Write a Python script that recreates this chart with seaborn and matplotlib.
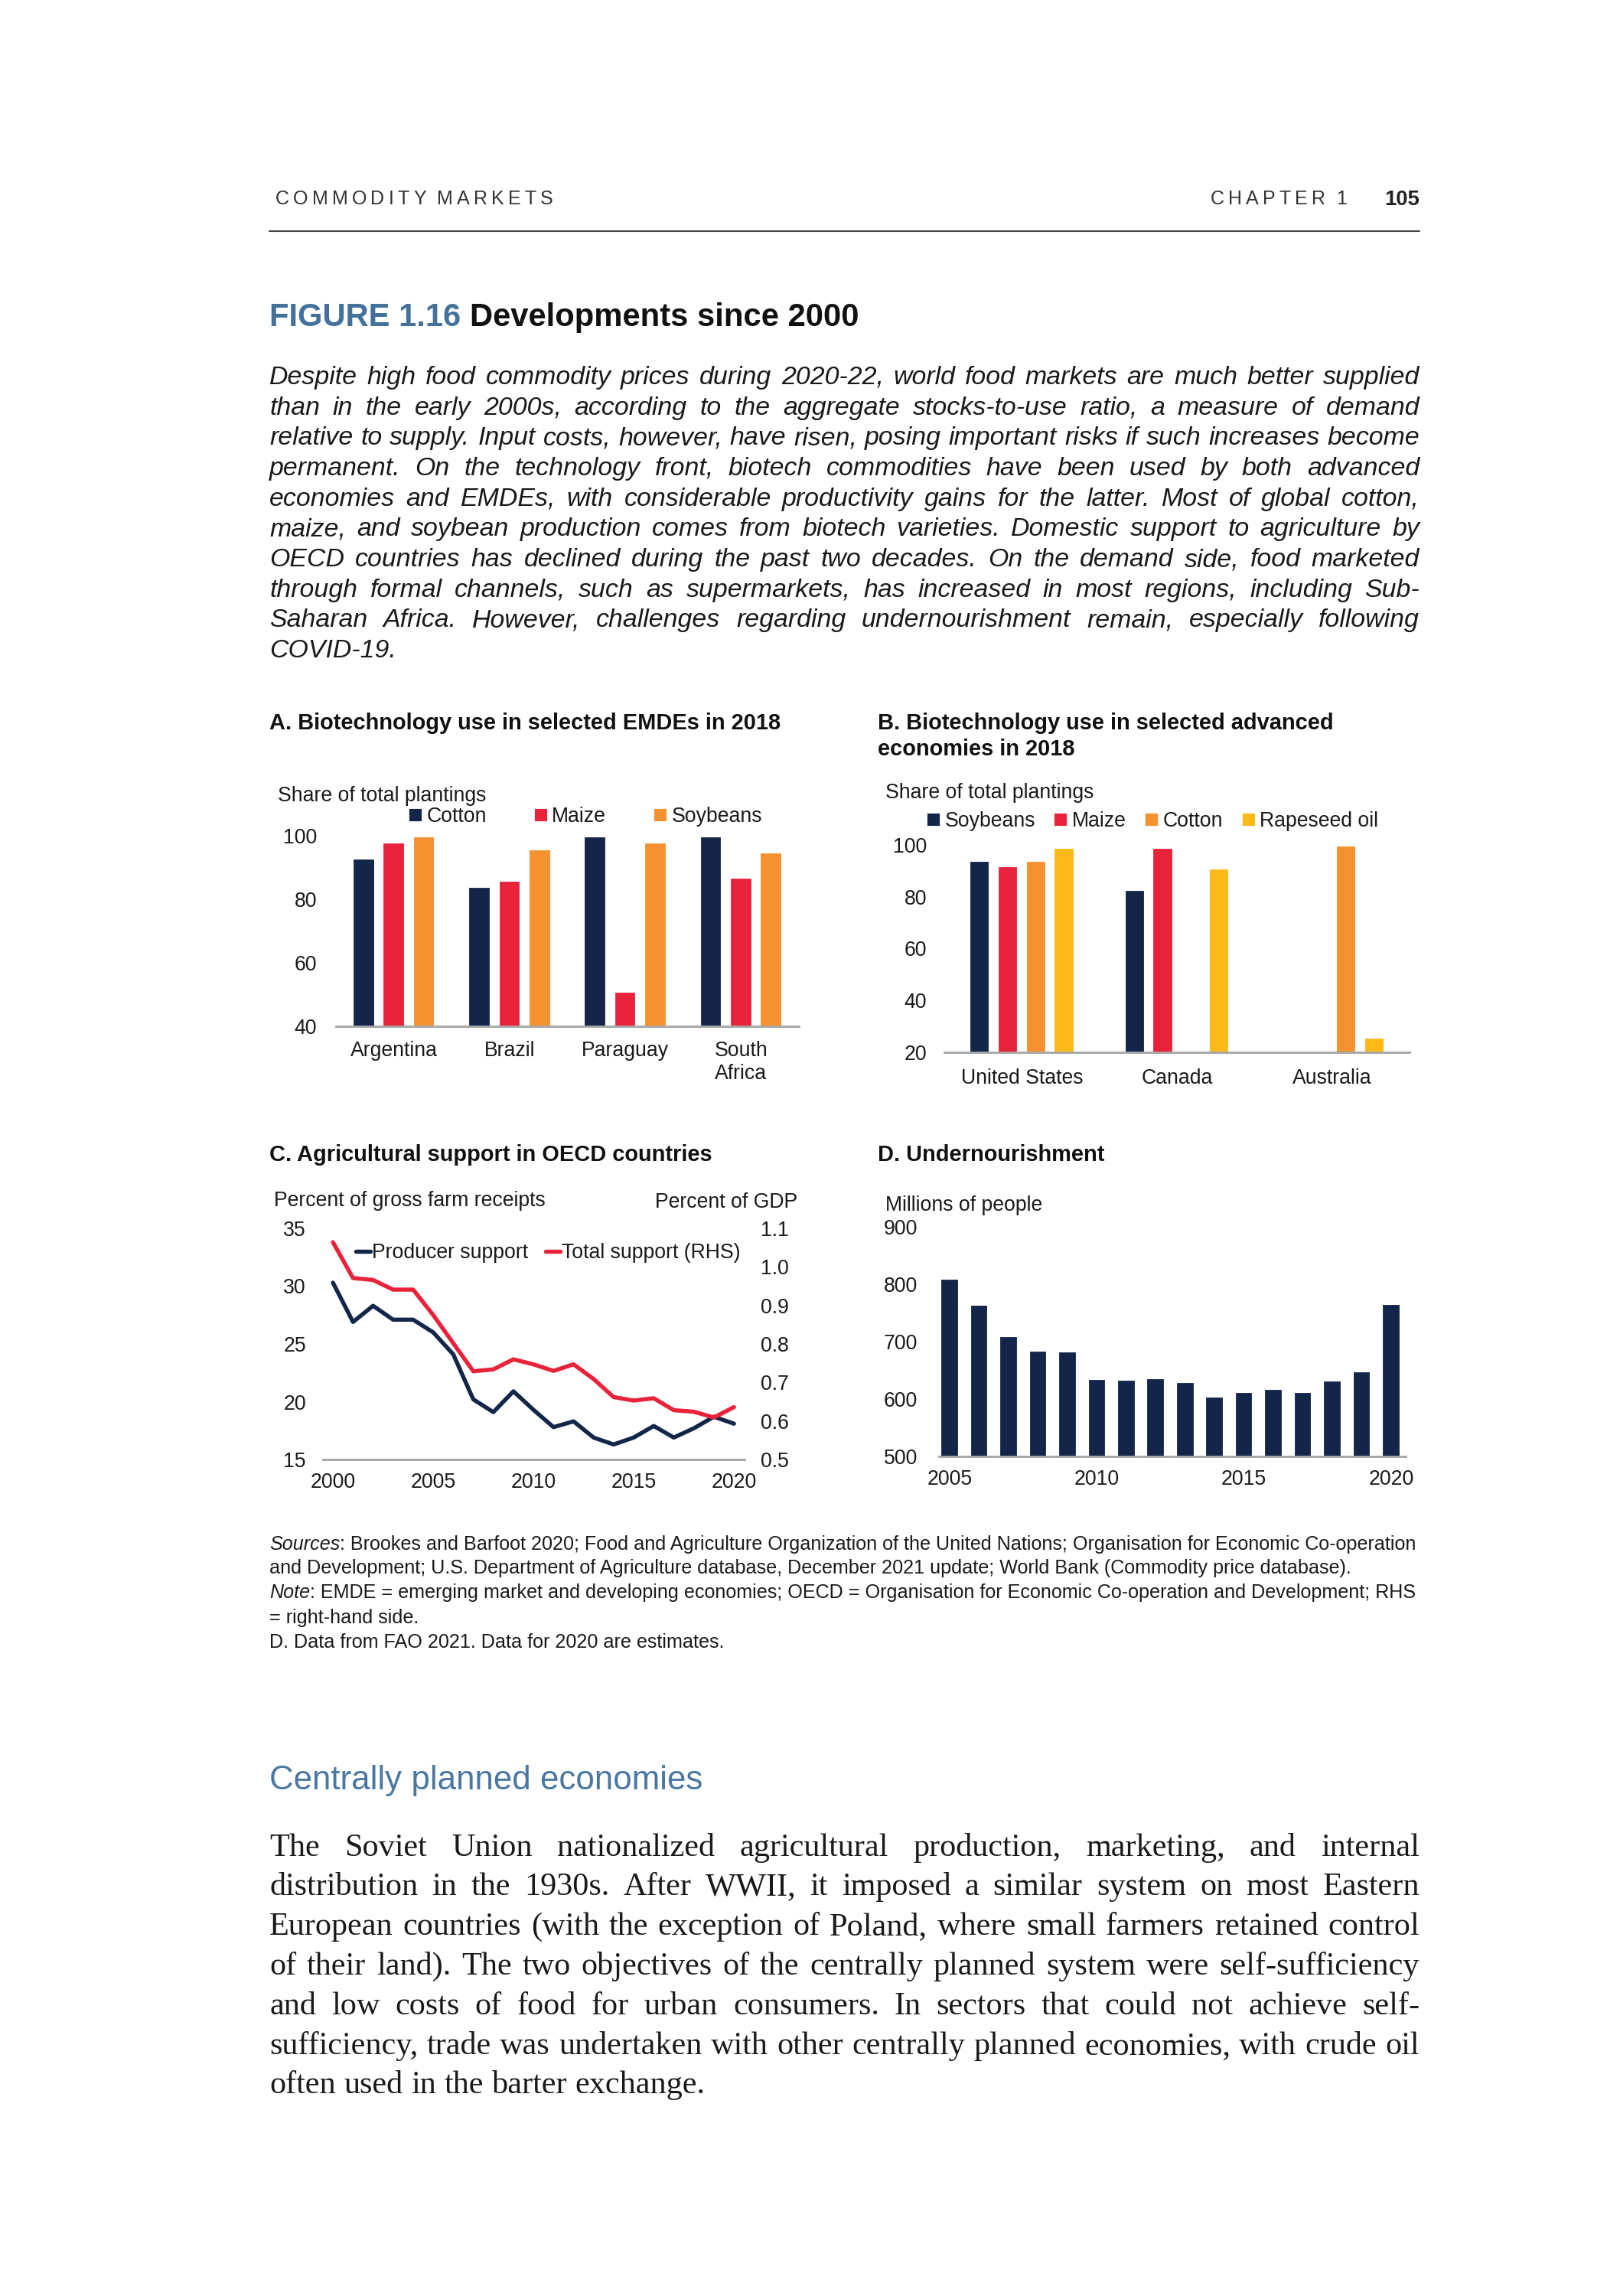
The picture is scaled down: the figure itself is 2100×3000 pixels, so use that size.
import matplotlib
matplotlib.use('Agg')
import matplotlib.pyplot as plt
from matplotlib.lines import Line2D
import numpy as np
import pandas as pd
import seaborn as sns

# Panel A: biotech use in EMDEs, 2018
emde_countries = ['Argentina', 'Brazil', 'Paraguay', 'South\nAfrica']
emde_crops = ['Cotton', 'Maize', 'Soybeans']
emde_cotton = [93, 84, 100, 100]
emde_maize = [98, 86, 51, 87]
emde_soybeans = [100, 96, 98, 95]

# Panel B: biotech use in advanced economies, 2018
adv_countries = ['United States', 'Canada', 'Australia']
adv_crops = ['Soybeans', 'Maize', 'Cotton', 'Rapeseed oil']
adv_soybeans = [94, 83, np.nan]
adv_maize = [92, 99, np.nan]
adv_cotton = [94, np.nan, 100]
adv_rapeseed = [99, 91, 26]

# Panel C: agricultural support in OECD countries
support_years = list(range(2000, 2021))
producer_support = [30.3, 26.9, 28.3, 27.1, 27.1, 26.0, 24.1, 20.2, 19.1, 20.9, 19.3,
                    17.8, 18.3, 16.9, 16.3, 16.9, 17.9, 16.9, 17.7, 18.7, 18.1]
total_support = [1.064, 0.971, 0.966, 0.941, 0.941, 0.875, 0.802, 0.729, 0.734, 0.760, 0.747,
                 0.730, 0.747, 0.709, 0.662, 0.653, 0.659, 0.628, 0.624, 0.609, 0.636]

# Panel D: undernourishment
hunger_years = [str(y) for y in range(2005, 2021)]
undernourished = [811, 765, 711, 685, 684, 636, 635, 637, 631, 606, 614, 619, 614, 633, 650, 767]

# page text
intro_lines = [
    "Despite high food commodity prices during 2020-22, world food markets are much better supplied",
    "than in the early 2000s, according to the aggregate stocks-to-use ratio, a measure of demand",
    "relative to supply. Input costs, however, have risen, posing important risks if such increases become",
    "permanent. On the technology front, biotech commodities have been used by both advanced",
    "economies and EMDEs, with considerable productivity gains for the latter. Most of global cotton,",
    "maize, and soybean production comes from biotech varieties. Domestic support to agriculture by",
    "OECD countries has declined during the past two decades. On the demand side, food marketed",
    "through formal channels, such as supermarkets, has increased in most regions, including Sub-",
    "Saharan Africa. However, challenges regarding undernourishment remain, especially following",
    "COVID-19.",
]
body_lines = [
    "The Soviet Union nationalized agricultural production, marketing, and internal",
    "distribution in the 1930s. After WWII, it imposed a similar system on most Eastern",
    "European countries (with the exception of Poland, where small farmers retained control",
    "of their land). The two objectives of the centrally planned system were self-sufficiency",
    "and low costs of food for urban consumers. In sectors that could not achieve self-",
    "sufficiency, trade was undertaken with other centrally planned economies, with crude oil",
    "often used in the barter exchange.",
]
source_lines = [
    [("Sources", "italic"), (": Brookes and Barfoot 2020; Food and Agriculture Organization of the United Nations; "
                             "Organisation for Economic Co-operation", "normal")],
    [("and Development; U.S. Department of Agriculture database, December 2021 update; World Bank "
      "(Commodity price database).", "normal")],
    [("Note", "italic"), (": EMDE = emerging market and developing economies; OECD = Organisation for Economic "
                          "Co-operation and Development; RHS", "normal")],
    [("= right-hand side.", "normal")],
    [("D. Data from FAO 2021. Data for 2020 are estimates.", "normal")],
]

navy = '#13264a'
red = '#e8223a'
orange = '#f5912f'
yellow = '#fdb81a'
head_blue = '#44719b'
ink = '#1a1a1a'

sns.set_theme(style='white')
plt.rcParams['font.family'] = ['Liberation Sans', 'DejaVu Sans']
plt.rcParams['text.color'] = ink
plt.rcParams['xtick.color'] = ink
plt.rcParams['ytick.color'] = ink

W, H = 2100, 3000
fig = plt.figure(figsize=(7, 10), dpi=300)
fig.patch.set_facecolor('white')
rend = fig.canvas.get_renderer()


def fx(x):
    return x / W


def fy(y):
    return 1 - y / H


def em(size):
    return size * 300 / 72


def text_w(s, **kw):
    t = fig.text(0, 0, s, **kw)
    w = t.get_window_extent(rend).width
    t.remove()
    return w


def fit(s, target, **kw):
    return 10 * target / text_w(s, fontsize=10, **kw)


def words_line(line, x0, y, size, x1=None, lift=0.36, **kw):
    # place words one by one, spread to x1 when justified
    words = line.split()
    ws = [text_w(w, fontsize=size, **kw) for w in words]
    if x1 is None or len(words) < 2:
        gap = text_w('a a', fontsize=size, **kw) - text_w('aa', fontsize=size, **kw)
    else:
        gap = (x1 - x0 - sum(ws)) / (len(words) - 1)
    x = x0
    yb = y + lift * em(size)
    for w, wd in zip(words, ws):
        fig.text(fx(x), fy(yb), w, fontsize=size, va='baseline', ha='left', **kw)
        x += wd + gap


def rich_line(segs, x0, y, size, lift=0.36, **kw):
    x = x0
    yb = y + lift * em(size)
    for s, style in segs:
        fig.text(fx(x), fy(yb), s, fontsize=size, style=style, va='baseline', ha='left', **kw)
        x += text_w(s, fontsize=size, style=style, **kw)


def tracked(s, x0, x1, y, size, lift=0.36, **kw):
    sp = text_w('A A', fontsize=size, **kw) - text_w('AA', fontsize=size, **kw)
    ws = [text_w(c, fontsize=size, **kw) if c != ' ' else sp for c in s]
    gap = (x1 - x0 - sum(ws)) / (len(s) - 1)
    x = x0
    yb = y + lift * em(size)
    for c, wd in zip(s, ws):
        if c != ' ':
            fig.text(fx(x), fy(yb), c, fontsize=size, va='baseline', ha='left', **kw)
        x += wd + gap


# ---- page header ----
tracked('COMMODITY MARKETS', 360, 723, 258, 6.0, color='#333333')
tracked('CHAPTER 1', 1582, 1760, 258, 6.0, color='#333333')
fig.text(fx(1855), fy(258 + 0.36 * em(6.6)), '105', fontsize=6.6, fontweight='bold',
         ha='right', va='baseline', color='#222222')
fig.add_artist(Line2D([fx(352), fx(1855)], [fy(302), fy(302)], color='#444444', lw=0.5))

# ---- figure title ----
t_size = fit('FIGURE 1.16 Developments since 2000', 771, fontweight='bold')
rich_line([('FIGURE 1.16 ', 'normal')], 352, 411, t_size, fontweight='bold', color=head_blue)
fig.text(fx(352 + text_w('FIGURE 1.16 ', fontsize=t_size, fontweight='bold')),
         fy(411 + 0.36 * em(t_size)), 'Developments since 2000', fontsize=t_size,
         fontweight='bold', va='baseline', color='#111111')

# ---- intro paragraph ----
p_kw = dict(style='italic', color=ink)
p_size = min(fit(l, 1503, **p_kw) for l in intro_lines[:-1]) * 0.995
for i, line in enumerate(intro_lines):
    y = 489.6 + i * 39.7
    words_line(line, 352, y, p_size, x1=None if i == len(intro_lines) - 1 else 1855, **p_kw)

# ---- panel titles ----
pt_size = fit('A. Biotechnology use in selected EMDEs in 2018', 671, fontweight='bold')
for txt, x, y in [('A. Biotechnology use in selected EMDEs in 2018', 352, 943),
                  ('B. Biotechnology use in selected advanced', 1147, 943),
                  ('economies in 2018', 1147, 977),
                  ('C. Agricultural support in OECD countries', 352, 1507),
                  ('D. Undernourishment', 1147, 1507)]:
    fig.text(fx(x), fy(y + 0.36 * em(pt_size)), txt, fontsize=pt_size, fontweight='bold',
             va='baseline', color='#111111')

fs = 6.4


def style_axis(ax, ypad=6, xpad=4.5):
    for s in ['left', 'right', 'top']:
        ax.spines[s].set_visible(False)
    ax.spines['bottom'].set_color('#a8a8a8')
    ax.spines['bottom'].set_linewidth(0.7)
    ax.tick_params(axis='both', length=0, labelsize=fs)
    ax.tick_params(axis='y', pad=ypad)
    ax.tick_params(axis='x', pad=xpad)
    ax.set_xlabel('')
    ax.set_ylabel('')
    ax.set_facecolor('none')


def axes_px(left, right, top, bottom):
    return fig.add_axes([fx(left), fy(bottom), (right - left) / W, (bottom - top) / H])


def square_legend(ax, labels, colors, x, y, colsp):
    handles = [Line2D([], [], marker='s', ls='', color=c, markersize=2.9) for c in colors]
    ax.legend(handles, labels, loc='center left', bbox_to_anchor=(fx(x), fy(y)),
              bbox_transform=fig.transFigure, frameon=False, ncol=len(labels), fontsize=fs,
              borderpad=0, borderaxespad=0, handlelength=0.5, handletextpad=0.3,
              columnspacing=colsp)


# ---- Panel A ----
ax_a = axes_px(439, 1044, 1092, 1341)
df_a = pd.DataFrame({
    'country': emde_countries * 3,
    'crop': np.repeat(emde_crops, len(emde_countries)),
    'share': emde_cotton + emde_maize + emde_soybeans,
})
sns.barplot(data=df_a, x='country', y='share', hue='crop', order=emde_countries,
            hue_order=emde_crops, palette=[navy, red, orange], saturation=1,
            width=0.78, gap=0.22, legend=False, ax=ax_a)
ax_a.set_ylim(40, 100)
ax_a.set_yticks([40, 60, 80, 100])
ax_a.set_xlim(-0.5, 3.5)
style_axis(ax_a, ypad=6, xpad=4.5)
fig.text(fx(363), fy(1037 + 0.36 * em(fs)), 'Share of total plantings', fontsize=fs, va='baseline')
square_legend(ax_a, emde_crops, [navy, red, orange], 536, 1067, 2.4)

# ---- Panel B ----
ax_b = axes_px(1234, 1842, 1104, 1375)
df_b = pd.DataFrame({
    'country': adv_countries * 4,
    'crop': np.repeat(adv_crops, len(adv_countries)),
    'share': adv_soybeans + adv_maize + adv_cotton + adv_rapeseed,
}).dropna()
sns.barplot(data=df_b, x='country', y='share', hue='crop', order=adv_countries,
            hue_order=adv_crops, palette=[navy, red, orange, yellow], saturation=1,
            width=0.727, gap=0.23, legend=False, ax=ax_b)
ax_b.set_ylim(20, 100)
ax_b.set_yticks([20, 40, 60, 80, 100])
ax_b.set_xlim(-0.5, 2.5)
style_axis(ax_b, ypad=5.5, xpad=5)
fig.text(fx(1157), fy(1033 + 0.36 * em(fs)), 'Share of total plantings', fontsize=fs, va='baseline')
square_legend(ax_b, adv_crops, [navy, red, orange, yellow], 1213, 1073, 1.0)

# ---- Panel C ----
ax_c = axes_px(422, 973, 1605, 1907)
sns.lineplot(x=support_years, y=producer_support, color=navy, lw=1.3, ax=ax_c)
ax_c2 = ax_c.twinx()
sns.lineplot(x=support_years, y=total_support, color=red, lw=1.3, ax=ax_c2)
ax_c.set_ylim(15, 35)
ax_c.set_yticks([15, 20, 25, 30, 35])
ax_c2.set_ylim(0.5, 1.1)
ax_c2.set_yticks([0.5, 0.6, 0.7, 0.8, 0.9, 1.0, 1.1])
ax_c2.set_yticklabels([f'{v:.1f}' for v in [0.5, 0.6, 0.7, 0.8, 0.9, 1.0, 1.1]])
ax_c.set_xlim(1999.5, 2020.53)
ax_c.set_xticks([2000, 2005, 2010, 2015, 2020])
style_axis(ax_c, ypad=5.3, xpad=4)
style_axis(ax_c2, ypad=5, xpad=4)
ax_c2.spines['bottom'].set_visible(False)
fig.text(fx(358), fy(1566 + 0.36 * em(fs)), 'Percent of gross farm receipts', fontsize=fs, va='baseline')
fig.text(fx(1042), fy(1568 + 0.36 * em(fs)), 'Percent of GDP', fontsize=fs, va='baseline', ha='right')
line_handles = [Line2D([], [], color=navy, lw=1.3), Line2D([], [], color=red, lw=1.3)]
ax_c2.legend(line_handles, ['Producer support', 'Total support (RHS)'], loc='center left',
             bbox_to_anchor=(fx(465), fy(1637)), bbox_transform=fig.transFigure, frameon=False,
             ncol=2, fontsize=fs, borderpad=0, borderaxespad=0, handlelength=0.7,
             handletextpad=0.1, columnspacing=0.85)

# ---- Panel D ----
ax_d = axes_px(1227, 1837, 1603, 1903)
sns.barplot(x=hunger_years, y=undernourished, color=navy, saturation=1, width=0.667, ax=ax_d)
ax_d.set_ylim(500, 900)
ax_d.set_yticks([500, 600, 700, 800, 900])
ax_d.set_xlim(-0.37, 15.5)
ax_d.set_xticks([0, 5, 10, 15])
ax_d.set_xticklabels(['2005', '2010', '2015', '2020'])
style_axis(ax_d, ypad=6.7, xpad=4)
fig.text(fx(1157), fy(1572 + 0.36 * em(fs)), 'Millions of people', fontsize=fs, va='baseline')

# ---- sources and notes ----
s_size = fit(source_lines[0][0][0] + source_lines[0][1][0], 1496)
for i, segs in enumerate(source_lines):
    y = [2016, 2047, 2079, 2112, 2144][i]
    rich_line(segs, 352, y, s_size, color=ink)

# ---- section header and body text ----
h_size = fit('Centrally planned economies', 564)
fig.text(fx(352), fy(2322 + 0.36 * em(h_size)), 'Centrally planned economies', fontsize=h_size,
         va='baseline', color='#4a78a3')

b_kw = dict(family=['Liberation Serif', 'DejaVu Serif'], color=ink)
b_size = min(fit(l, 1503, **b_kw) for l in body_lines[:-1]) * 0.995
for i, line in enumerate(body_lines):
    y = 2412 + i * 51.8
    words_line(line, 352, y, b_size, x1=None if i == len(body_lines) - 1 else 1855, lift=0.3, **b_kw)

fig.savefig('out.png', dpi=300, facecolor='white')
